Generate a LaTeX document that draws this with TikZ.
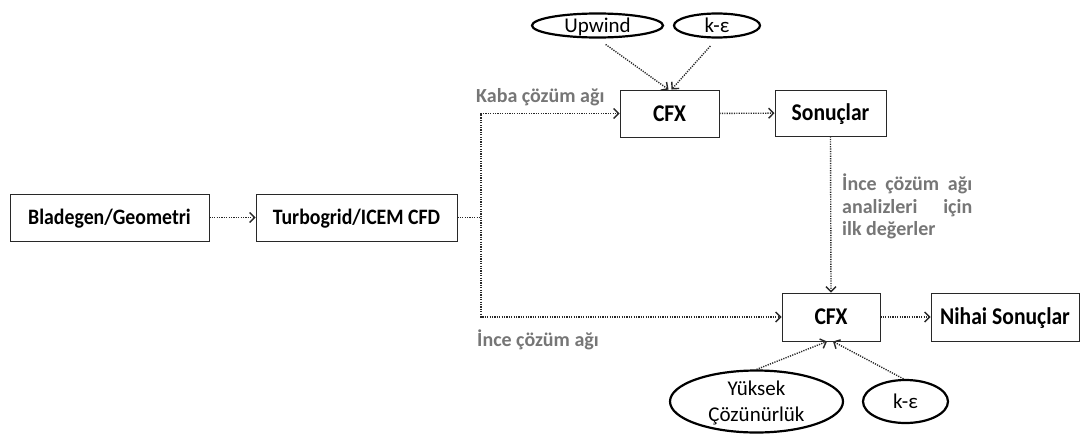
\documentclass[tikz,border=0pt]{standalone}
\usepackage{fontspec}
\setmainfont{Carlito}
\newfontfamily\boxfont{Carlito}[FakeStretch=0.9]
\usetikzlibrary{arrows.meta,shapes.geometric}
\definecolor{labgray}{RGB}{118,118,118}
\definecolor{linegray}{RGB}{40,40,40}
\begin{document}
\begin{tikzpicture}[x=1pt,y=-1pt,
  box/.style={draw=linegray, line width=0.9pt, inner sep=0pt, text depth=0pt},
  bfa/.style={font=\boxfont\bfseries\fontsize{22}{24}\selectfont, text height=14pt},
  bfb/.style={font=\boxfont\bfseries\fontsize{24}{26}\selectfont, text height=15.3pt},
  oval/.style={draw=black, ellipse, line width=2.2pt, inner sep=0pt},
  ovaltext/.style={font=\fontsize{21}{26}\selectfont, inner sep=0pt,
    text height=13.5pt, text depth=0pt},
  conn/.style={draw=linegray, line width=1.4pt, dash pattern=on 1.2pt off 1.2pt,
    -{Straight Barb[length=5pt,width=10pt,line width=1.4pt]}},
  lbl/.style={text=labgray, font=\bfseries\fontsize{20}{22.5}\selectfont, inner sep=0pt}]
\useasboundingbox (0,0) rectangle (1089,434);

% boxes
\node[box, bfa, minimum width=199pt, minimum height=47pt] (bg) at (109.5,217.5) {Bladegen/Geometri};
\node[box, bfa, minimum width=201pt, minimum height=47pt] (tg) at (356.5,217.5) {Turbogrid/ICEM CFD};
\node[box, bfb, minimum width=99pt, minimum height=47pt] (cfx1) at (669.5,113.5) {CFX};
\node[box, bfb, minimum width=111pt, minimum height=46pt] (son) at (830.5,113) {Sonuçlar};
\node[box, bfb, minimum width=98pt, minimum height=48pt] (cfx2) at (831,317) {CFX};
\node[box, bfb, minimum width=148pt, minimum height=48pt] (nih) at (1005,317) {Nihai Sonuçlar};

% ellipses
\node[oval, minimum width=131pt, minimum height=24pt] (up) at (597.5,25.5) {};
\node[ovaltext] (upt) at (up) {Upwind};
\node[oval, minimum width=86pt, minimum height=24pt] (ke1) at (717,25.5) {};
\node[ovaltext] (ke1t) at (ke1) {k-ε};
\node[oval, minimum width=173pt, minimum height=62pt] (yc) at (756.5,401.5) {};
\node[font=\fontsize{21}{26}\selectfont, inner sep=0pt, align=center] (yct) at ([yshift=-1pt]yc) {Yüksek\\Çözünürlük};
\node[oval, minimum width=85pt, minimum height=43pt] (ke2) at (905.5,401.5) {};
\node[ovaltext] (ke2t) at (ke2) {k-ε};

% labels
\node[lbl, anchor=west] (kaba) at (476,97) {Kaba çözüm ağı};
\node[lbl, anchor=west] (ince) at (477,340) {İnce çözüm ağı};
\node[lbl, anchor=north west, align=left] (ilk) at (842,174)
  {\makebox[130pt][s]{İnce çözüm ağı}\\\makebox[130pt][s]{analizleri için}\\ilk değerler};

% junction coordinates
\coordinate (j) at (481,217.5);

% connectors
\draw[conn] (bg) -- (tg);
\draw[conn] (tg.east) -- (j) |- (cfx1.west);
\draw[conn] (j) |- (cfx2.west);
\draw[conn] (cfx1) -- (son);
\draw[conn] (son.south) -- (cfx2.north);
\draw[conn] (cfx2) -- (nih);
\draw[conn, shorten <=10pt] (up.south) -- ([xshift=-1pt]cfx1.north);
\draw[conn, shorten <=10pt] (ke1.south) -- ([xshift=2pt]cfx1.north);
\draw[conn] (yc.north) -- ([xshift=-4pt]cfx2.south);
\draw[conn] ([xshift=-2pt]ke2.north) -- ([xshift=2pt]cfx2.south);
\end{tikzpicture}
\end{document}
